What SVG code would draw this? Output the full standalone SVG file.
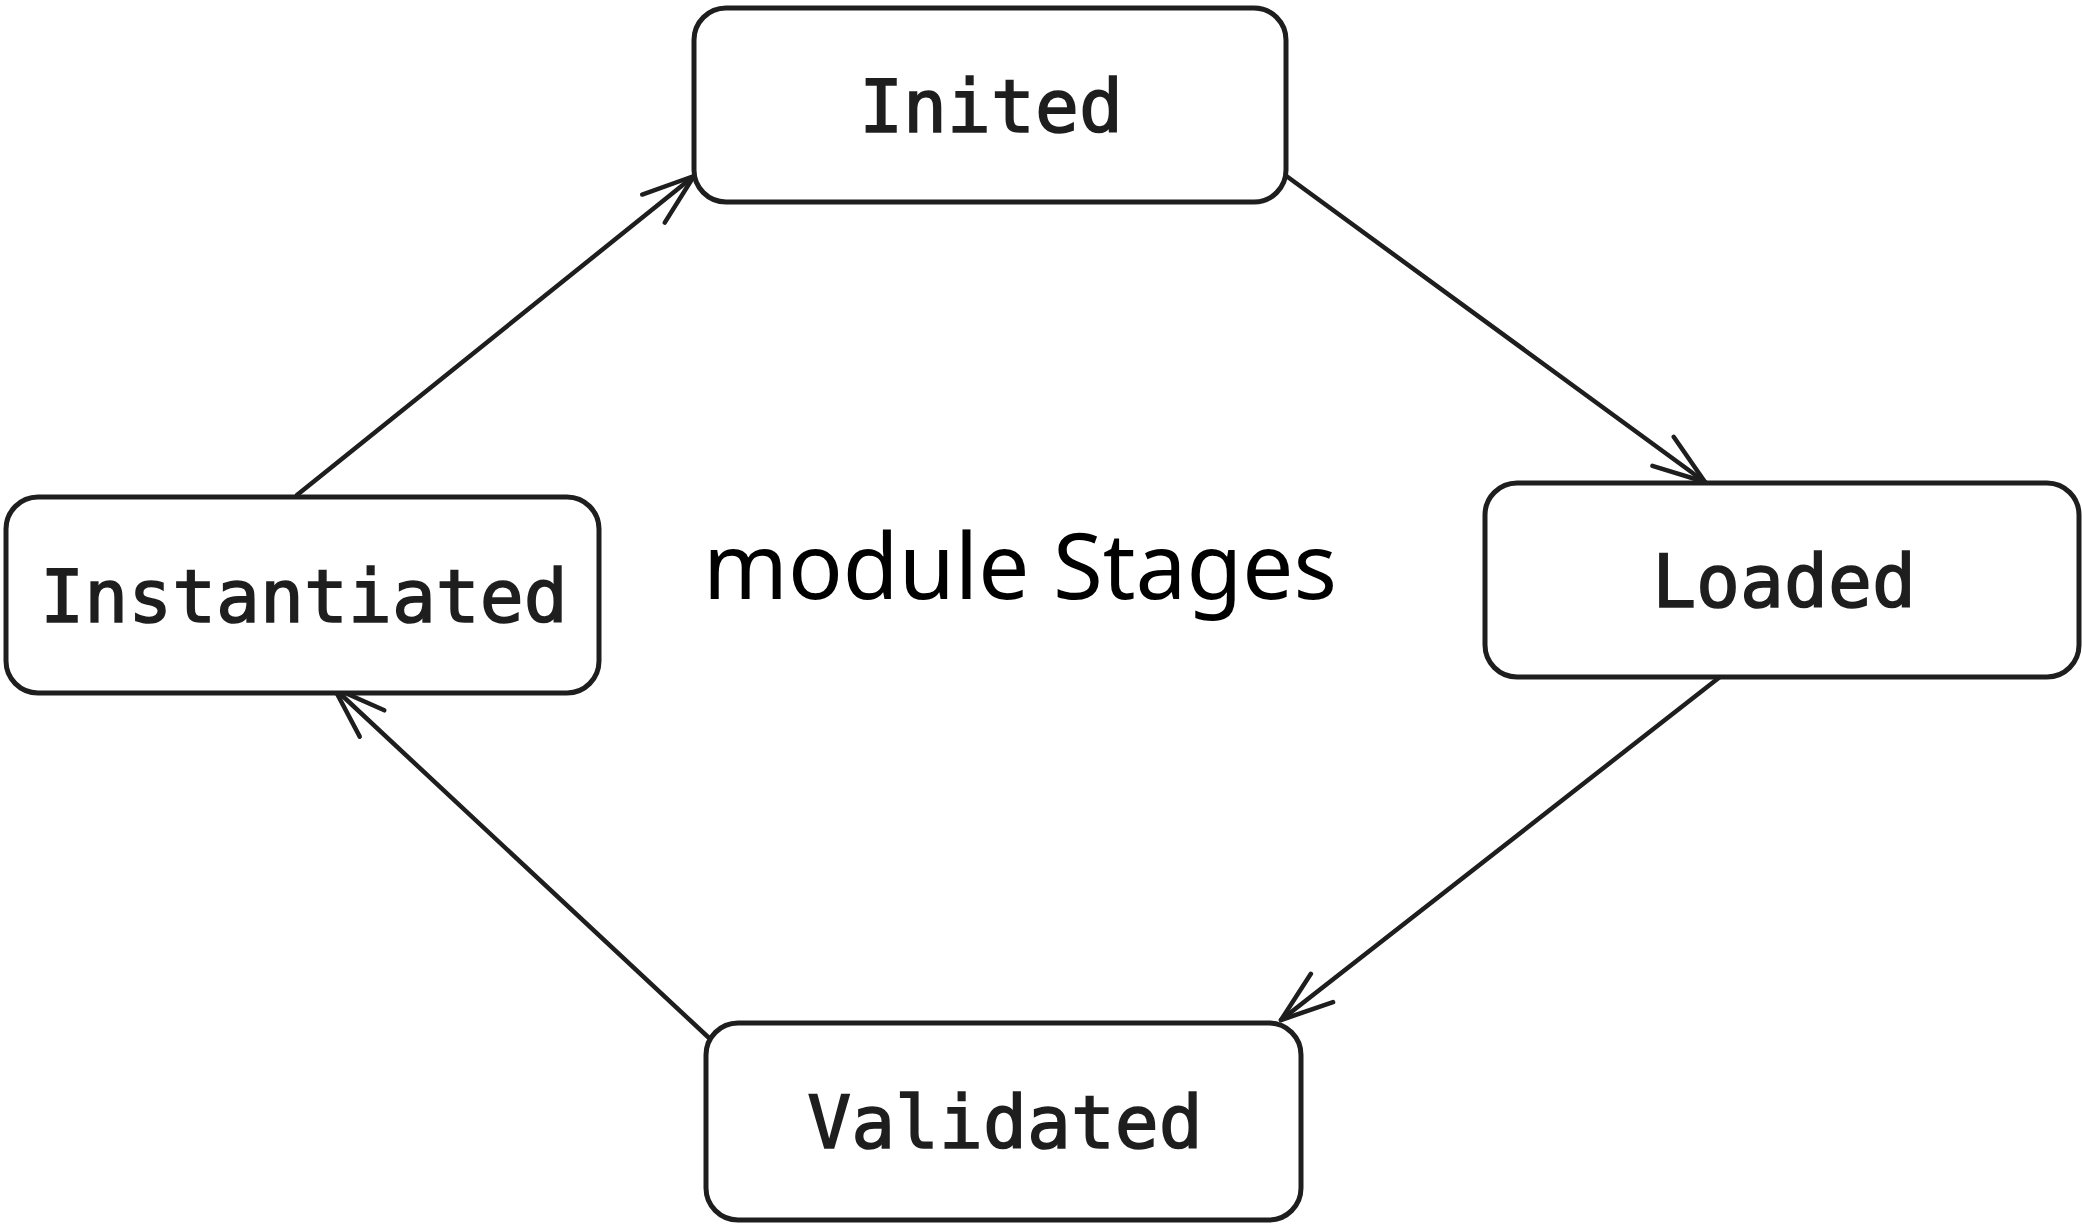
<svg xmlns="http://www.w3.org/2000/svg" width="2082" height="1226" viewBox="0 0 2082 1226">
  <style>
    .box { fill: #ffffff; stroke: #1e1e1e; stroke-width: 5; }
    .label { font-family: "DejaVu Sans Mono", "Liberation Mono", monospace; font-size: 73px; font-weight: normal; fill: #1e1e1e; stroke: #1e1e1e; stroke-width: 1.6; text-anchor: middle; }
    .title { font-family: "Noto Sans", "Open Sans", sans-serif; font-size: 91px; fill: #000000; }
    .edge { fill: none; stroke: #1e1e1e; stroke-width: 4.5; stroke-linecap: round; }
  </style>
  <defs>
    <marker id="arrow" markerUnits="userSpaceOnUse" markerWidth="80" markerHeight="80" viewBox="-70 -40 80 80" refX="0" refY="0" orient="auto">
      <path d="M -52,-18 L 0,0 L -52,18" fill="none" stroke="#1e1e1e" stroke-width="4.5" stroke-linecap="round" stroke-linejoin="round"/>
    </marker>
  </defs>

  <rect width="2082" height="1226" fill="#ffffff"/>

  <!-- connectors: the module lifecycle cycle -->
  <g id="connectors">
    <path class="edge" d="M 1285,175 L 1705,482" marker-end="url(#arrow)"/>
    <path class="edge" d="M 1725,673 L 1281,1020" marker-end="url(#arrow)"/>
    <path class="edge" d="M 708,1037 L 334,688" marker-end="url(#arrow)"/>
    <path class="edge" d="M 297,495 L 694,176" marker-end="url(#arrow)"/>
  </g>

  <g id="node-inited">
    <rect class="box" x="694" y="8" width="592" height="194" rx="32" ry="32"/>
    <text class="label" x="991" y="132">Inited</text>
  </g>

  <g id="node-loaded">
    <rect class="box" x="1485" y="483" width="594" height="194" rx="32" ry="32"/>
    <text class="label" x="1784" y="607">Loaded</text>
  </g>

  <g id="node-validated">
    <rect class="box" x="706" y="1023" width="595" height="197" rx="32" ry="32"/>
    <text class="label" x="1005" y="1148">Validated</text>
  </g>

  <g id="node-instantiated">
    <rect class="box" x="6" y="497" width="593" height="196" rx="32" ry="32"/>
    <text class="label" x="304" y="622">Instantiated</text>
  </g>

  <g id="title">
    <text class="title" x="703" y="599" textLength="634" lengthAdjust="spacingAndGlyphs">module Stages</text>
  </g>
</svg>
